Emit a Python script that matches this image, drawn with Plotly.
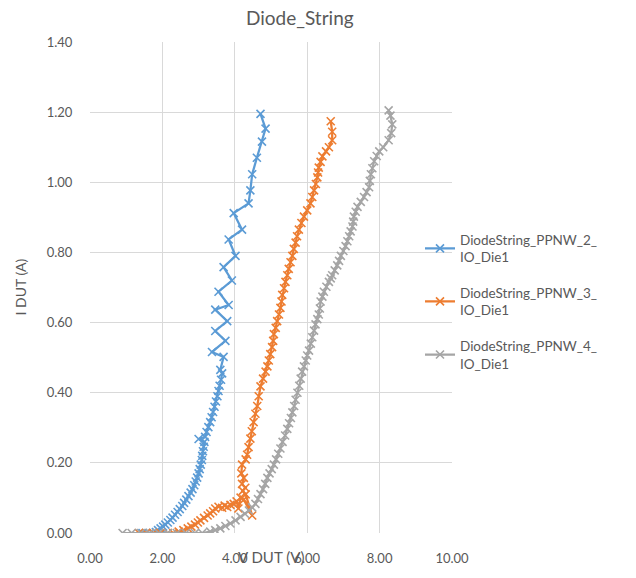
import plotly.graph_objects as go

# ---- data ----
blue_v = [1.45, 1.55, 1.65, 1.75, 1.82, 1.88, 1.95, 2.02, 2.08, 2.15, 2.22, 2.28, 2.35, 2.42,
          2.48, 2.55, 2.60, 2.66, 2.72, 2.78, 2.83, 2.88, 2.92, 2.96, 3.00, 3.03, 3.06, 3.09,
          3.10, 3.12, 3.14, 3.16, 3.00, 3.18, 3.22, 3.27, 3.32, 3.36, 3.40, 3.44, 3.48, 3.52,
          3.55, 3.58, 3.62, 3.65, 3.60, 3.69, 3.37, 3.74, 3.46, 3.79, 3.46, 3.83, 3.55, 3.92,
          3.69, 4.02, 3.83, 4.20, 3.97, 4.38, 4.43, 4.48, 4.61, 4.75, 4.85, 4.71]
blue_i = [0.0, 0.0, 0.0, 0.0, 0.003, 0.008, 0.013, 0.018, 0.024, 0.030, 0.037, 0.044, 0.052, 0.060,
          0.068, 0.077, 0.086, 0.095, 0.105, 0.115, 0.125, 0.136, 0.147, 0.158, 0.170, 0.182, 0.195, 0.208,
          0.220, 0.233, 0.246, 0.260, 0.268, 0.274, 0.288, 0.302, 0.316, 0.330, 0.345, 0.360, 0.375, 0.390,
          0.405, 0.420, 0.437, 0.455, 0.465, 0.502, 0.516, 0.548, 0.576, 0.604, 0.637, 0.650, 0.688, 0.720,
          0.758, 0.790, 0.837, 0.865, 0.912, 0.940, 0.977, 1.023, 1.070, 1.116, 1.153, 1.195]

orange_v = [1.35, 1.55, 1.75, 1.95, 2.15, 2.30, 2.45, 2.58, 2.70, 2.80, 2.90, 2.98, 3.05, 3.15,
            3.25, 3.32, 3.40, 3.46, 3.55, 3.65, 3.72, 3.79, 3.88, 3.97, 4.05, 4.10, 4.16, 4.25,
            4.48, 4.30, 4.22, 4.29, 4.20, 4.25, 4.18, 4.20, 4.30, 4.34, 4.38, 4.43, 4.47, 4.52,
            4.57, 4.62, 4.66, 4.71, 4.78, 4.85, 4.90, 4.94, 4.98, 5.03, 5.06, 5.08, 5.13, 5.17,
            5.22, 5.26, 5.29, 5.31, 5.36, 5.40, 5.45, 5.49, 5.54, 5.59, 5.63, 5.68, 5.72, 5.77,
            5.84, 5.91, 6.00, 6.09, 6.14, 6.19, 6.24, 6.28, 6.30, 6.32, 6.37, 6.42, 6.52, 6.60,
            6.69, 6.69, 6.65]
orange_i = [0.0, 0.0, 0.0, 0.0, 0.0, 0.0, 0.004, 0.008, 0.013, 0.018, 0.024, 0.030, 0.036, 0.043,
            0.050, 0.056, 0.062, 0.070, 0.075, 0.072, 0.078, 0.074, 0.080, 0.083, 0.090, 0.070, 0.101, 0.095,
            0.050, 0.110, 0.120, 0.129, 0.140, 0.157, 0.170, 0.195, 0.210, 0.223, 0.245, 0.269, 0.290, 0.316,
            0.340, 0.362, 0.390, 0.418, 0.440, 0.460, 0.475, 0.492, 0.510, 0.530, 0.548, 0.567, 0.585, 0.604,
            0.623, 0.642, 0.660, 0.679, 0.698, 0.716, 0.735, 0.753, 0.772, 0.790, 0.810, 0.828, 0.846, 0.865,
            0.884, 0.902, 0.920, 0.940, 0.958, 0.977, 0.995, 1.014, 1.028, 1.042, 1.058, 1.074, 1.088, 1.100,
            1.120, 1.144, 1.174]

grey_v = [0.90, 1.15, 1.40, 1.65, 1.90, 2.15, 2.40, 2.65, 2.90, 3.10, 3.32, 3.46, 3.60, 3.74,
          3.88, 4.02, 4.16, 4.28, 4.39, 4.48, 4.57, 4.64, 4.71, 4.78, 4.84, 4.90, 4.96, 5.02,
          5.08, 5.14, 5.20, 5.26, 5.32, 5.39, 5.45, 5.50, 5.55, 5.59, 5.64, 5.68, 5.73, 5.78,
          5.82, 5.86, 5.91, 5.96, 6.00, 6.05, 6.10, 6.14, 6.19, 6.23, 6.28, 6.32, 6.35, 6.37,
          6.42, 6.46, 6.53, 6.60, 6.65, 6.69, 6.76, 6.83, 6.88, 6.93, 7.00, 7.06, 7.11, 7.16,
          7.20, 7.25, 7.27, 7.29, 7.34, 7.39, 7.48, 7.57, 7.64, 7.71, 7.73, 7.76, 7.80, 7.85,
          7.92, 7.99, 8.10, 8.25, 8.32, 8.35, 8.30, 8.25]
grey_i = [0.0, 0.0, 0.0, 0.0, 0.0, 0.0, 0.0, 0.0, 0.0, 0.0, 0.004, 0.008, 0.013, 0.020,
          0.027, 0.036, 0.046, 0.055, 0.064, 0.073, 0.083, 0.097, 0.111, 0.125, 0.140, 0.157, 0.170, 0.182,
          0.195, 0.210, 0.226, 0.241, 0.260, 0.278, 0.297, 0.313, 0.328, 0.344, 0.362, 0.380, 0.400, 0.420,
          0.440, 0.460, 0.475, 0.492, 0.506, 0.520, 0.540, 0.558, 0.577, 0.595, 0.610, 0.623, 0.640, 0.660,
          0.674, 0.688, 0.702, 0.716, 0.726, 0.735, 0.749, 0.763, 0.776, 0.790, 0.804, 0.818, 0.832, 0.846,
          0.860, 0.874, 0.888, 0.902, 0.916, 0.930, 0.944, 0.958, 0.972, 0.986, 1.004, 1.023, 1.040, 1.060,
          1.075, 1.088, 1.100, 1.120, 1.140, 1.165, 1.190, 1.205]

series_names = ["DiodeString_PPNW_2_<br>IO_Die1",
                "DiodeString_PPNW_3_<br>IO_Die1",
                "DiodeString_PPNW_4_<br>IO_Die1"]
series_colors = ["#5B9BD5", "#ED7D31", "#A5A5A5"]
x_ticks = [0, 2, 4, 6, 8, 10]
y_ticks = [0, 0.2, 0.4, 0.6, 0.8, 1.0, 1.2, 1.4]

FONT = "Lato"
TXT = "#595959"
GRID = "#D9D9D9"

fig = go.Figure()
for k, (xs, ys) in enumerate([(blue_v, blue_i), (orange_v, orange_i), (grey_v, grey_i)]):
    fig.add_trace(go.Scatter(
        x=xs, y=ys, mode="lines+markers", name=series_names[k],
        legendgroup=f"g{k}",
        line=dict(color=series_colors[k], width=2.25),
        marker=dict(symbol="x-thin", size=8, color=series_colors[k],
                    line=dict(color=series_colors[k], width=1.6)),
    ))

W, H = 636, 578
L, R, T, B = 90, 184, 42, 35
pw, ph = W - L - R, H - T - B

fig.update_layout(
    width=W, height=H,
    margin=dict(l=L, r=R, t=T, b=B),
    paper_bgcolor="white", plot_bgcolor="white",
    font=dict(family=FONT, color=TXT, size=12),
    showlegend=True,
    legend=dict(x=(420 - L) / pw, xanchor="left", y=(H - B - 228) / ph, yanchor="top",
                bgcolor="rgba(0,0,0,0)", font=dict(size=13.5, color=TXT, family=FONT),
                tracegroupgap=15),
    xaxis=dict(range=[0, 10], tickvals=x_ticks, tickformat=".2f",
               showgrid=True, gridcolor=GRID, gridwidth=1, zeroline=False,
               showline=False, ticks="outside", ticklen=13, tickcolor="rgba(0,0,0,0)",
               tickfont=dict(size=13, color=TXT, family=FONT), fixedrange=True),
    yaxis=dict(range=[0, 1.4], tickvals=y_ticks, tickformat=".2f",
               showgrid=True, gridcolor=GRID, gridwidth=1, zeroline=False,
               showline=False, ticks="outside", ticklen=14, tickcolor="rgba(0,0,0,0)",
               tickfont=dict(size=13, color=TXT, family=FONT), fixedrange=True),
    annotations=[
        dict(text="Diode_String", xref="paper", yref="paper",
             x=(300 - L) / pw, y=(H - B - 17) / ph, xanchor="center", yanchor="middle",
             showarrow=False, font=dict(size=19, color=TXT, family=FONT)),
        dict(text="V DUT (V)", xref="paper", yref="paper",
             x=0.5, y=(H - B - 567) / ph, xanchor="center", yanchor="middle",
             showarrow=False, font=dict(size=15, color=TXT, family=FONT)),
        dict(text="I DUT (A)", xref="paper", yref="paper", textangle=-90,
             x=(20 - L) / pw, y=0.5, xanchor="center", yanchor="middle",
             showarrow=False, font=dict(size=14, color=TXT, family=FONT)),
    ],
)

fig.write_html("out.html")
